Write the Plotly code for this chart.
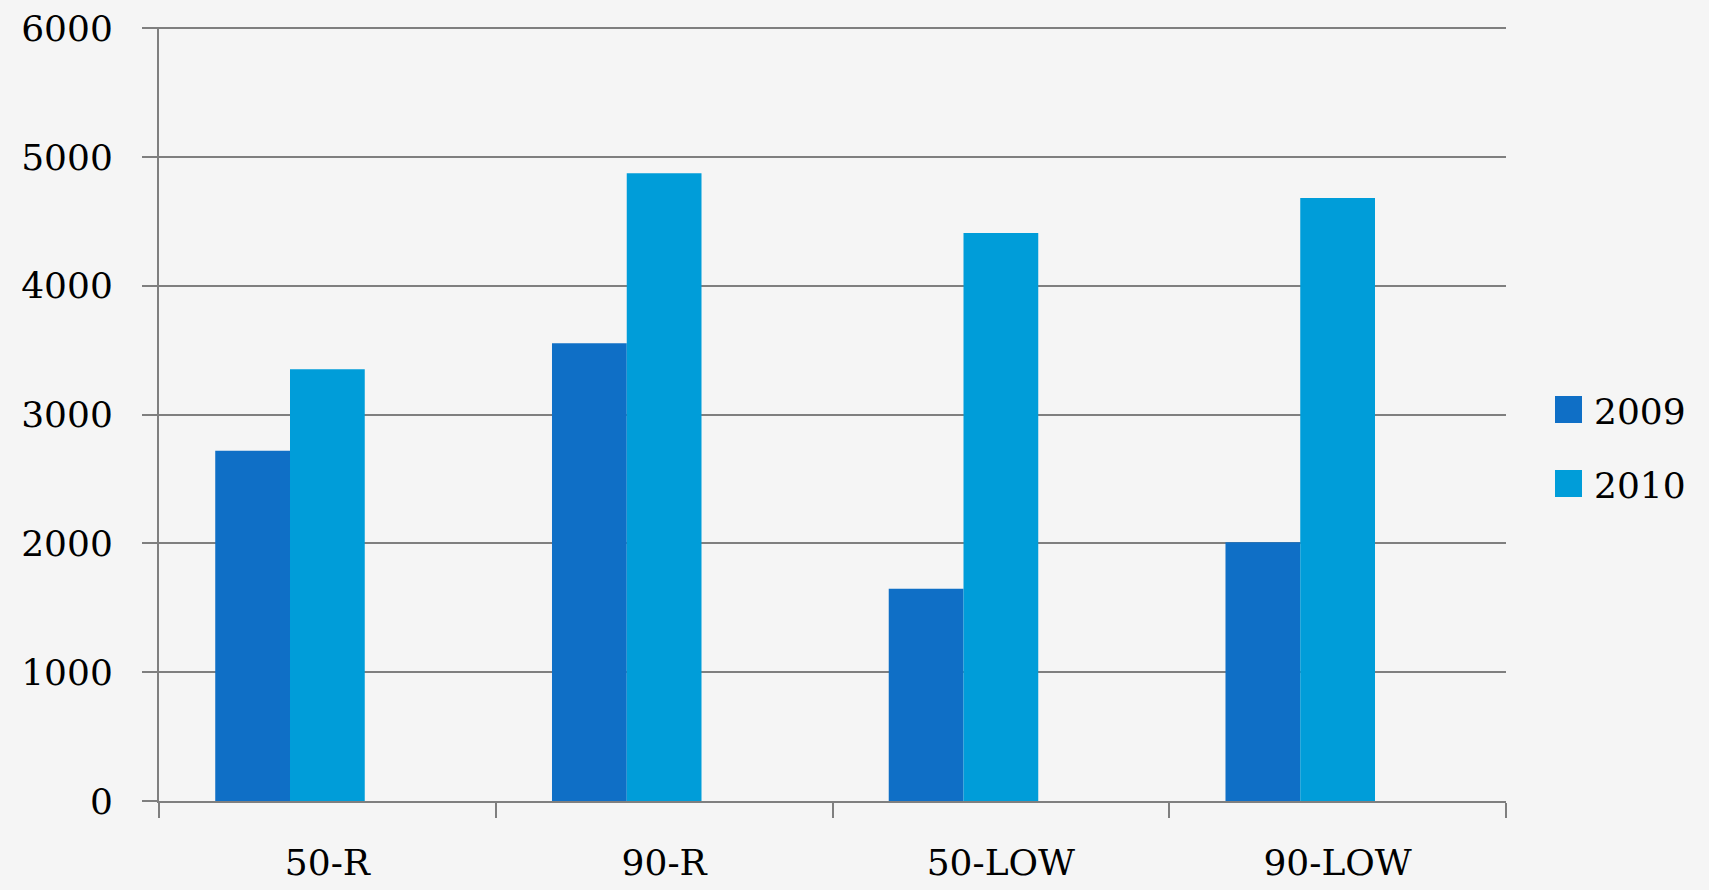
import plotly.graph_objects as go

# Data
categories = ["50-R", "90-R", "50-LOW", "90-LOW"]
series_names = ["2009", "2010"]
values_2009 = [2720, 3555, 1648, 2010]
values_2010 = [3353, 4875, 4411, 4683]
y_ticks = [0, 1000, 2000, 3000, 4000, 5000, 6000]

# Styling
colors = ["#0F6FC6", "#009DD9"]
font_family = "DejaVu Serif"
font_size = 36
axis_grey = "#7F7F7F"
bg = "#F5F5F5"

W, H = 1709, 890
ML, MR, MT, MB = 159, 203, 27, 89
plot_w = W - ML - MR
plot_h = H - MT - MB


def px_to_paper(x, y):
    """Convert page pixel position to paper coordinates."""
    return (x - ML) / plot_w, (H - MB - y) / plot_h


fig = go.Figure()

# bar slots: three slots per category (Excel-style, third slot empty)
bar_width = 0.222
offsets = [-0.333, -0.111]
for name, vals, col, off in zip(series_names, [values_2009, values_2010], colors, offsets):
    fig.add_trace(go.Bar(
        x=categories, y=vals, name=name,
        marker=dict(color=col, line=dict(width=0)),
        width=bar_width, offset=off, showlegend=False,
    ))

# legend drawn as squares + text
legend_rows = [409.5, 483.5]
shapes = []
annotations = []
for name, col, cy in zip(series_names, colors, legend_rows):
    x0, y0 = px_to_paper(1555, cy + 13.5)
    x1, y1 = px_to_paper(1582, cy - 13.5)
    shapes.append(dict(type="rect", xref="paper", yref="paper",
                       x0=x0, x1=x1, y0=y0, y1=y1,
                       fillcolor=col, line=dict(width=0)))
    tx, ty = px_to_paper(1592, cy + 2)
    annotations.append(dict(xref="paper", yref="paper", x=tx, y=ty,
                            text=name, showarrow=False,
                            xanchor="left", yanchor="middle",
                            font=dict(family=font_family, size=font_size, color="black")))

fig.update_layout(
    width=W, height=H,
    margin=dict(l=ML, r=MR, t=MT, b=MB, pad=0),
    paper_bgcolor=bg, plot_bgcolor=bg,
    barmode="overlay",
    shapes=shapes, annotations=annotations,
    font=dict(family=font_family, size=font_size, color="black"),
)

fig.update_xaxes(
    type="category", automargin=False,
    showline=True, linecolor=axis_grey, linewidth=2,
    ticks="outside", tickson="boundaries", ticklen=15,
    tickcolor=axis_grey, tickwidth=2,
    showgrid=False, zeroline=False,
    ticklabelstandoff=29,
    tickfont=dict(family=font_family, size=font_size, color="black"),
)

fig.update_yaxes(
    range=[0, 6010], tickvals=y_ticks, automargin=False,
    ticktext=[str(v) for v in y_ticks],
    showline=True, linecolor=axis_grey, linewidth=2,
    ticks="outside", ticklen=15, tickcolor=axis_grey, tickwidth=2,
    showgrid=True, gridcolor=axis_grey, gridwidth=2,
    zeroline=False,
    ticklabelstandoff=22,
    tickfont=dict(family=font_family, size=font_size, color="black"),
)

fig.write_html("out.html")
